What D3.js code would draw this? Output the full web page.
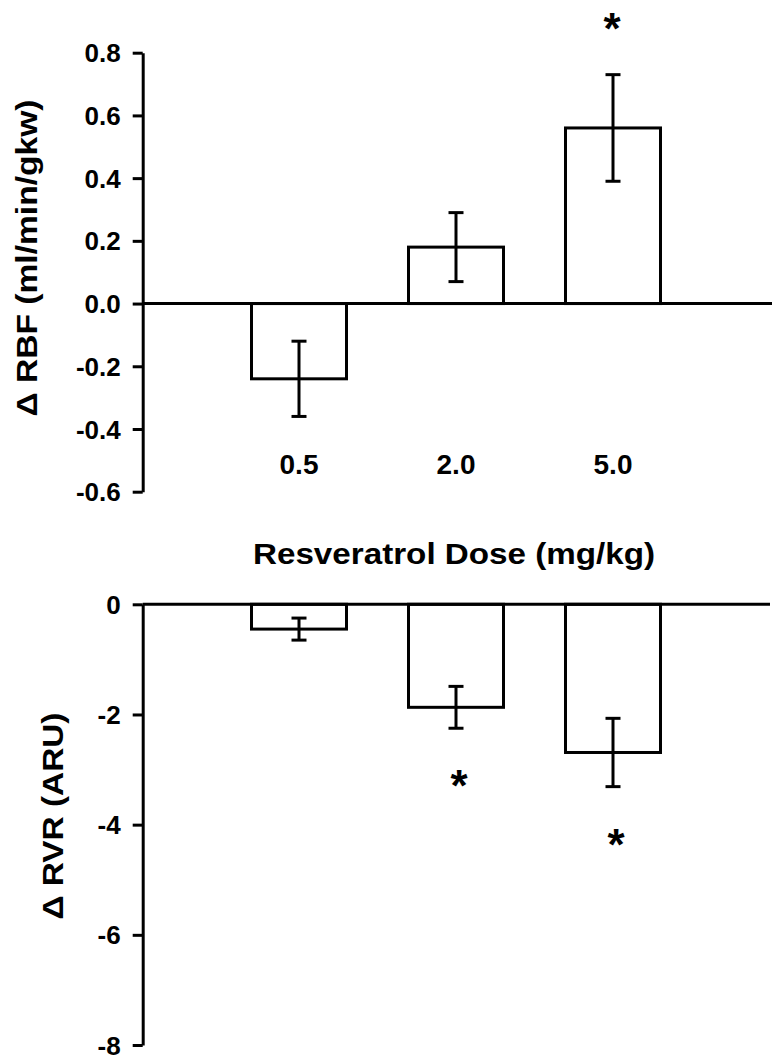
<!DOCTYPE html>
<html>
<head>
<meta charset="utf-8">
<script src="https://cdn.jsdelivr.net/npm/d3@7"></script>
<style>
  html, body { margin: 0; padding: 0; background: #fff; }
  svg { display: block; }
  text { font-family: "Liberation Sans", Arial, sans-serif; font-weight: bold; fill: #000; }
</style>
</head>
<body>
<svg id="chart" width="773" height="1063"></svg>
<script>
// ---- data ----
const doses = ["0.5", "2.0", "5.0"];
const rbfMean = [-0.24, 0.18, 0.56];
const rbfErr = [0.12, 0.11, 0.17];
const rbfSig = [false, false, true];
const rvrMean = [-0.45, -1.87, -2.69];
const rvrErr = [0.20, 0.38, 0.62];
const rvrSig = [false, true, true];
const rbfTicks = [-0.6, -0.4, -0.2, 0.0, 0.2, 0.4, 0.6, 0.8];
const rvrTicks = [-8, -6, -4, -2, 0];
const xTitle = "Resveratrol Dose (mg/kg)";
const rbfLabel = "\u0394 RBF (ml/min/gkw)";
const rvrLabel = "\u0394 RVR (ARU)";

const svg = d3.select("#chart");
const axisX = 142.7;
const barW = 95;
const capW = 15;
const sw = 3;

const x = d3.scalePoint().domain(doses).range([299, 613]);
const hyph = f => v => f(v).replace("\u2212", "-");

function panel(cfg) {
  const g = svg.append("g");
  const y = d3.scaleLinear().domain(cfg.domain).range(cfg.range);
  // y axis
  const ax = g.append("g")
    .attr("transform", `translate(${axisX},0)`)
    .call(d3.axisLeft(y).tickValues(cfg.ticks).tickFormat(cfg.fmt)
      .tickSize(10).tickSizeOuter(0).tickPadding(12));
  ax.selectAll("path.domain").attr("stroke", "#000").attr("stroke-width", sw);
  ax.selectAll(".tick line").attr("stroke", "#000").attr("stroke-width", sw);
  ax.selectAll(".tick text").attr("font-size", 26)
    .attr("font-family", "Liberation Sans, Arial, sans-serif").attr("font-weight", "bold")
    .attr("dy", "0.35em");

  const data = doses.map((d, i) => ({ d, m: cfg.mean[i], e: cfg.err[i], s: cfg.sig[i] }));
  // bars
  g.selectAll("rect.bar").data(data).enter().append("rect")
    .attr("x", d => x(d.d) - barW / 2)
    .attr("width", barW)
    .attr("y", d => Math.min(y(d.m), y(0)))
    .attr("height", d => Math.abs(y(d.m) - y(0)))
    .attr("fill", "#fff").attr("stroke", "#000").attr("stroke-width", sw);
  // error bars
  const eb = g.selectAll("g.eb").data(data).enter().append("g").attr("stroke", "#000").attr("stroke-width", sw);
  eb.append("line").attr("x1", d => x(d.d)).attr("x2", d => x(d.d))
    .attr("y1", d => y(d.m + d.e)).attr("y2", d => y(d.m - d.e));
  eb.append("line").attr("x1", d => x(d.d) - capW / 2).attr("x2", d => x(d.d) + capW / 2)
    .attr("y1", d => y(d.m + d.e)).attr("y2", d => y(d.m + d.e));
  eb.append("line").attr("x1", d => x(d.d) - capW / 2).attr("x2", d => x(d.d) + capW / 2)
    .attr("y1", d => y(d.m - d.e)).attr("y2", d => y(d.m - d.e));
  // zero line
  g.append("line").attr("x1", axisX).attr("x2", cfg.zeroEnd)
    .attr("y1", y(0)).attr("y2", y(0)).attr("stroke", "#000").attr("stroke-width", sw);
  // stars
  g.selectAll("text.star").data(data.filter(d => d.s)).enter().append("text")
    .attr("class", "star")
    .attr("x", d => x(d.d) + cfg.starDx)
    .attr("y", d => cfg.starY(y, d))
    .attr("text-anchor", "middle").attr("font-size", 44)
    .text("*");
  // y label
  g.append("text")
    .attr("transform", `translate(${cfg.labelX},${cfg.labelY}) rotate(-90)`)
    .attr("text-anchor", "middle").attr("font-size", 30)
    .attr("textLength", cfg.labelLen).attr("lengthAdjust", "spacingAndGlyphs")
    .text(cfg.label);
  return y;
}

panel({
  domain: [-0.6, 0.8], range: [491.7, 52.7], ticks: rbfTicks, fmt: hyph(d3.format(".1f")),
  mean: rbfMean, err: rbfErr, sig: rbfSig, zeroEnd: 772,
  starDx: -1, starY: (y, d) => y(d.m + d.e) - 56 + 25,
  label: rbfLabel, labelX: 37, labelY: 258, labelLen: 317
});

panel({
  domain: [-8, 0], range: [1045, 604.3], ticks: rvrTicks, fmt: hyph(d3.format("d")),
  mean: rvrMean, err: rvrErr, sig: rvrSig, zeroEnd: 770,
  starDx: 3, starY: (y, d) => y(d.m - d.e) + 48 + 25,
  label: rvrLabel, labelX: 63, labelY: 816, labelLen: 207
});

// category labels
svg.selectAll("text.cat").data(doses).enter().append("text")
  .attr("class", "cat")
  .attr("x", d => x(d)).attr("y", 474)
  .attr("text-anchor", "middle").attr("font-size", 28)
  .text(d => d);

// x title
svg.append("text")
  .attr("x", 454).attr("y", 564)
  .attr("text-anchor", "middle").attr("font-size", 30)
  .attr("textLength", 402).attr("lengthAdjust", "spacingAndGlyphs")
  .text(xTitle);
</script>
</body>
</html>
